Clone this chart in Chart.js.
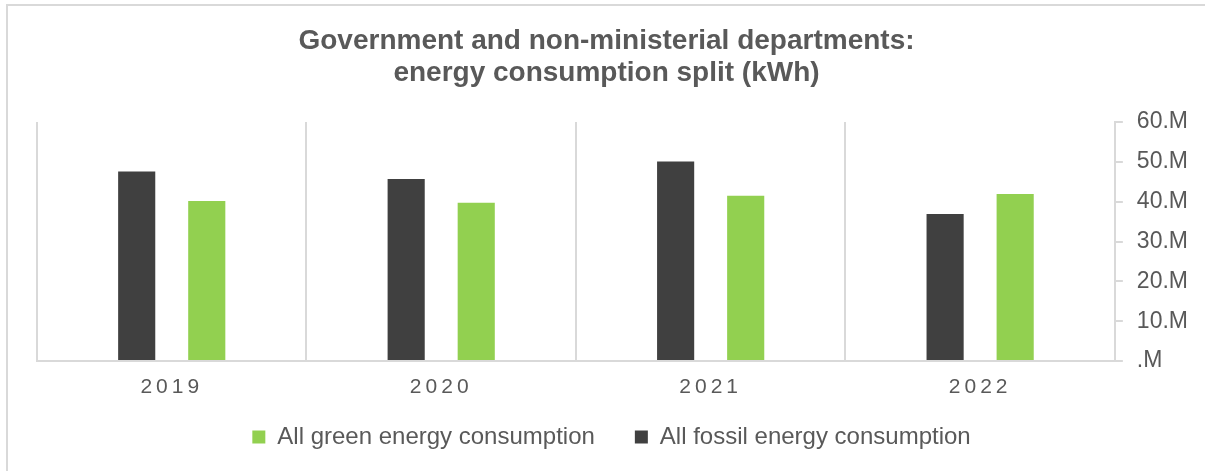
<!DOCTYPE html>
<html>
<head>
<meta charset="utf-8">
<script src="https://cdn.jsdelivr.net/npm/chart.js@4.4.1/dist/chart.umd.min.js"></script>
<style>
  html, body { margin: 0; padding: 0; background: #fff; }
  #wrap { width: 1205px; height: 471px; }
</style>
</head>
<body>
<div id="wrap"><canvas id="myChart" width="1205" height="471"></canvas></div>
<script>
/* DATA */
const years = ['2019', '2020', '2021', '2022'];
const fossilValues = [47600000, 45700000, 50100000, 36900000];
const greenValues = [40200000, 39700000, 41500000, 41900000];
const yTicks = [0, 10000000, 20000000, 30000000, 40000000, 50000000, 60000000];

Chart.defaults.font.family = "'Liberation Sans', Arial, sans-serif";
Chart.defaults.color = '#595959';

/** light frame round the chart (only top + left visible in the crop) */
const frame = {
  id: 'frame',
  beforeDraw(chart) {
    const ctx = chart.ctx;
    ctx.save();
    ctx.strokeStyle = '#d9d9d9';
    ctx.lineWidth = 2;
    ctx.beginPath();
    ctx.moveTo(7, 471);
    ctx.lineTo(7, 5);
    ctx.lineTo(1205, 5);
    ctx.stroke();
    ctx.restore();
  }
};

/** spaced out year labels on the x axis, nudged title / legend */
const tweaks = {
  id: 'tweaks',
  afterLayout(chart) {
    const s = chart.scales.x;
    s._computeLabelArea = () => undefined; // no clipping, labels sit below the short axis box
    if (!s._spaced) {
      const orig = s.drawLabels;
      s.drawLabels = function (area) {
        const ctx = this.ctx;
        ctx.save();
        ctx.letterSpacing = '4px';
        orig.call(this, area);
        ctx.restore();
      };
      s._spaced = true;
    }
    chart.titleBlock.left -= 13;
    chart.titleBlock.right -= 13;
    chart.legend.left -= 8;
    chart.legend.right -= 8;
  }
};

const ctx = document.getElementById('myChart');

new Chart(ctx, {
  type: 'bar',
  data: {
    labels: years,
    datasets: [{
      label: 'All fossil energy consumption',
      data: fossilValues,
      backgroundColor: '#404040',
      categoryPercentage: 0.52,
      barPercentage: 0.53
    }, {
      label: 'All green energy consumption',
      data: greenValues,
      backgroundColor: '#92d050',
      categoryPercentage: 0.52,
      barPercentage: 0.53
    }]
  },
  options: {
    responsive: false,
    animation: false,
    layout: {
      padding: { left: 37, right: 3, top: 0, bottom: 12 }
    },
    scales: {
      x: {
        grid: { color: '#d9d9d9', lineWidth: 2, drawTicks: false, offset: true },
        border: { color: '#d9d9d9', width: 2 },
        ticks: { font: { size: 21 }, color: '#595959', padding: 14 },
        afterFit(scale) {
          scale.height = 24;
        }
      },
      y: {
        position: 'right',
        min: 0,
        max: 60000000,
        afterBuildTicks(scale) {
          scale.ticks = yTicks.map(v => ({ value: v }));
        },
        grid: { drawOnChartArea: false, drawTicks: true, tickLength: 8, color: '#d9d9d9', lineWidth: 2 },
        border: { color: '#d9d9d9', width: 2 },
        ticks: {
          font: { size: 23 },
          color: '#595959',
          padding: 14,
          callback: v => v === 0 ? '.M' : (v / 1000000) + '.M'
        }
      }
    },
    plugins: {
      title: {
        display: true,
        text: ['Government and non-ministerial departments:', 'energy consumption split (kWh)'],
        font: { size: 28, weight: 'bold', lineHeight: 1.143 },
        color: '#595959',
        padding: { top: 25.5, bottom: 32.5 }
      },
      legend: {
        position: 'bottom',
        reverse: true,
        labels: {
          boxWidth: 13,
          boxHeight: 13,
          padding: 40,
          color: '#595959',
          font: { size: 24 }
        }
      },
      tooltip: { enabled: false }
    }
  },
  plugins: [frame, tweaks]
});
</script>
</body>
</html>
